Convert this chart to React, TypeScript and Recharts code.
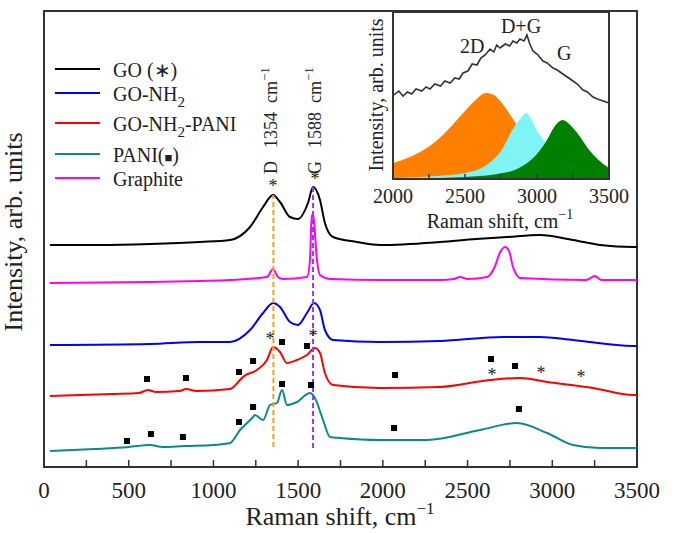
import React from "react";
import {
  ComposedChart,
  Line,
  Area,
  Scatter,
  XAxis,
  YAxis,
  ReferenceArea,
  ReferenceLine,
} from "recharts";

// Main spectra: [Raman shift cm-1, intensity (arb., offset stack)]
const goSpectrum: [number, number][] = [
  [35, 222], [330, 222], [626, 223], [921, 225], [1098, 227], [1216, 240],
  [1293, 260], [1352, 272], [1393, 265], [1452, 250], [1499, 248], [1558, 264],
  [1588, 280], [1629, 267], [1658, 244], [1706, 230], [1847, 225], [1983, 222],
  [2337, 225], [2550, 228], [2733, 230], [2927, 232], [3122, 227], [3281, 222],
  [3476, 220], [3500, 220],
];
const graphiteSpectrum: [number, number][] = [
  [35, 184], [626, 185], [921, 186], [1098, 187], [1316, 190], [1352, 198],
  [1381, 190], [1411, 188], [1552, 190], [1570, 207], [1580, 252], [1590, 250],
  [1611, 207], [1629, 192], [1688, 188], [1983, 187], [2337, 187], [2420, 188],
  [2455, 190], [2500, 188], [2615, 190], [2660, 200], [2690, 214], [2721, 220],
  [2745, 216], [2768, 200], [2790, 192], [2809, 189], [3200, 187], [3252, 191],
  [3290, 187], [3500, 187],
];
const goNh2Spectrum: [number, number][] = [
  [35, 122], [626, 123], [921, 125], [1098, 125], [1216, 137], [1293, 154],
  [1352, 164], [1393, 160], [1452, 145], [1499, 142], [1552, 154], [1594, 164],
  [1629, 157], [1658, 137], [1706, 127], [1983, 125], [2337, 126], [2709, 130],
  [2927, 130], [3122, 127], [3476, 121], [3500, 121],
];
const goNh2PaniSpectrum: [number, number][] = [
  [35, 71], [400, 73], [560, 74], [614, 77], [660, 75], [800, 76], [840, 78],
  [900, 76], [1098, 78], [1157, 87], [1174, 90], [1257, 97], [1316, 107],
  [1352, 120], [1393, 115], [1434, 104], [1493, 107], [1552, 112], [1599, 119],
  [1629, 114], [1658, 94], [1706, 82], [1983, 79], [2337, 80], [2632, 87],
  [2809, 89], [2969, 85], [3240, 79], [3476, 72], [3500, 72],
];
const paniSpectrum: [number, number][] = [
  [35, 16], [300, 18], [500, 20], [626, 22], [700, 20], [830, 21], [1000, 22],
  [1098, 24], [1157, 37], [1174, 40], [1234, 50], [1245, 52], [1293, 47],
  [1334, 62], [1375, 64], [1405, 77], [1434, 62], [1493, 65], [1570, 74],
  [1599, 69], [1647, 47], [1688, 30], [1747, 29], [1983, 27], [2260, 27],
  [2573, 37], [2792, 44], [2969, 34], [3122, 22], [3281, 19], [3476, 19],
  [3500, 19],
];

// Peak markers
const paniSquares: [number, number][] = [
  [608, 88], [838, 89], [1151, 95], [1234, 106], [1405, 125], [1552, 121],
  [2072, 92], [2638, 108], [2780, 101],
  [490, 26], [631, 33], [820, 30], [1151, 45], [1234, 60], [1405, 83],
  [1576, 82], [2066, 39], [2803, 58],
];
const goStars: [number, number][] = [
  [1334, 130], [1588, 133], [2644, 94], [2933, 96], [3169, 92],
  [1352, 283], [1599, 290],
];

// Inset: measured spectrum and fitted bands
const insetMeasured: [number, number][] = [
  [2007, 84], [2040, 88], [2070, 83], [2100, 87], [2130, 85], [2160, 90],
  [2200, 88], [2230, 92], [2257, 90], [2290, 95], [2330, 93], [2360, 98],
  [2396, 96], [2430, 101], [2460, 100], [2486, 106], [2520, 108], [2550, 115],
  [2583, 114], [2610, 121], [2640, 124], [2674, 130], [2700, 127], [2720, 134],
  [2743, 131], [2780, 135], [2810, 133], [2833, 138], [2860, 136], [2882, 140],
  [2910, 138], [2930, 144], [2950, 135], [2972, 128], [3000, 125], [3042, 118],
  [3070, 116], [3111, 111], [3140, 109], [3180, 105], [3210, 102], [3250, 98],
  [3280, 95], [3319, 89], [3350, 87], [3389, 82], [3420, 80], [3460, 78],
  [3500, 76],
];
const band2D: [number, number][] = [
  [2000, 16], [2100, 21], [2200, 28], [2300, 38], [2400, 52], [2500, 68],
  [2580, 80], [2644, 86], [2700, 84], [2750, 77], [2800, 67], [2850, 56],
  [2900, 42], [3000, 22], [3100, 12], [3250, 5], [3500, 2],
];
const bandDG: [number, number][] = [
  [2000, 1], [2300, 3], [2500, 6], [2650, 14], [2750, 28], [2833, 50],
  [2900, 63], [2924, 66], [2960, 60], [3000, 48], [3042, 40], [3100, 28],
  [3200, 14], [3300, 7], [3500, 3],
];
const bandG: [number, number][] = [
  [2000, 0], [2500, 2], [2800, 7], [2900, 13], [3000, 25], [3069, 39],
  [3120, 52], [3180, 59], [3230, 54], [3300, 42], [3347, 32], [3420, 20],
  [3500, 11],
];

const mainTicks = [0, 250, 500, 750, 1000, 1250, 1500, 1750, 2000, 2250, 2500, 2750, 3000, 3250, 3500];
const insetTicks = [2000, 2250, 2500, 2750, 3000, 3250, 3500];

const series = [
  { name: "GO (∗)", color: "#000000", data: goSpectrum },
  { name: "GO-NH2", color: "#0000ff", data: goNh2Spectrum },
  { name: "GO-NH2-PANI", color: "#ff0000", data: goNh2PaniSpectrum },
  { name: "PANI(■)", color: "#0a8a8a", data: paniSpectrum },
  { name: "Graphite", color: "#ff00ff", data: graphiteSpectrum },
];

const toPoints = (arr: [number, number][]) => arr.map(([x, y]) => ({ x, y }));

const FONT = "Liberation Serif";
const AXIS = "#333333";

const MainTick = (props: any) => {
  const { x, y, payload } = props;
  const major = payload.value % 500 === 0;
  return (
    <g>
      <line x1={x} x2={x} y1={y} y2={y - 7} stroke={AXIS} strokeWidth={1.5} />
      {major && (
        <text x={x} y={y + 31} textAnchor="middle" fontFamily={FONT} fontSize={23} fill="#222">
          {payload.value}
        </text>
      )}
    </g>
  );
};

const InsetTick = (props: any) => {
  const { x, y, payload } = props;
  const major = payload.value % 500 === 0;
  return (
    <g>
      <line x1={x} x2={x} y1={y} y2={y - 5} stroke={AXIS} strokeWidth={1.5} />
      {major && (
        <text x={x} y={y + 24} textAnchor="middle" fontFamily={FONT} fontSize={20} fill="#222">
          {payload.value}
        </text>
      )}
    </g>
  );
};

const Square = (props: any) => (
  <rect x={props.cx - 3} y={props.cy - 3} width={6} height={6} fill="#000" />
);
const Star = (props: any) => (
  <text x={props.cx} y={props.cy + 8} textAnchor="middle" fontFamily={FONT} fontSize={18} fill="#222">
    *
  </text>
);

function LegendRow({ y, color, children }: { y: number; color: string; children: React.ReactNode }) {
  return (
    <g>
      <line x1={55} x2={100} y1={y} y2={y} stroke={color} strokeWidth={2} />
      <text x={113} y={y + 7.5} fontFamily={FONT} fontSize={20} fill="#222">
        {children}
      </text>
    </g>
  );
}

function PeakLabel({ x, letter, shift }: { x: number; letter: string; shift: string }) {
  return (
    <text transform={`translate(${x},174) rotate(-90)`} fontFamily={FONT} fontSize={18} fill="#222">
      {letter}
      <tspan dx={13}>{shift}</tspan>
      <tspan dx={9}>cm</tspan>
      <tspan fontSize={13} dy={-8}>−1</tspan>
    </text>
  );
}

export default function App() {
  return (
    <div style={{ position: "absolute", left: 0, top: 0, width: 677, height: 533, background: "#fff" }}>
      <div style={{ position: "absolute", left: 0, top: 0 }}>
        <ComposedChart width={677} height={533} margin={{ top: 11, right: 40, bottom: 36, left: 44 }}>
          <XAxis
            type="number"
            dataKey="x"
            domain={[0, 3500]}
            ticks={mainTicks}
            interval={0}
            height={30}
            axisLine={false}
            tickLine={false}
            tickSize={0}
            tickMargin={0}
            tick={<MainTick />}
            allowDataOverflow
          />
          <YAxis type="number" domain={[0, 456]} hide width={0} allowDataOverflow />
          {series.map((s) => (
            <Line
              key={s.name}
              data={toPoints(s.data)}
              dataKey="y"
              type="monotone"
              stroke={s.color}
              strokeWidth={2}
              dot={false}
              isAnimationActive={false}
            />
          ))}
          <ReferenceLine
            segment={[{ x: 1354, y: 20 }, { x: 1354, y: 272 }]}
            stroke="#ff9a1a"
            strokeWidth={2}
            strokeDasharray="5 3"
          />
          <ReferenceLine
            segment={[{ x: 1588, y: 19 }, { x: 1588, y: 280 }]}
            stroke="#9a33ff"
            strokeWidth={2}
            strokeDasharray="5 3"
          />
          <Scatter data={toPoints(paniSquares)} dataKey="y" shape={<Square />} isAnimationActive={false} />
          <Scatter data={toPoints(goStars)} dataKey="y" shape={<Star />} isAnimationActive={false} />
          <ReferenceArea x1={0} x2={3500} y1={0} y2={456} fill="none" stroke={AXIS} strokeWidth={2} />
        </ComposedChart>
      </div>

      <div style={{ position: "absolute", left: 0, top: 0 }}>
        <ComposedChart width={677} height={533} margin={{ top: 12, right: 68, bottom: 324, left: 393 }}>
          <XAxis
            type="number"
            dataKey="x"
            domain={[2000, 3500]}
            ticks={insetTicks}
            interval={0}
            height={30}
            axisLine={false}
            tickLine={false}
            tickSize={0}
            tickMargin={0}
            tick={<InsetTick />}
            allowDataOverflow
          />
          <YAxis type="number" domain={[0, 167]} hide width={0} allowDataOverflow />
          <ReferenceArea x1={2000} x2={3500} y1={0} y2={167} fill="#fff" fillOpacity={1} stroke="none" />
          <Area data={toPoints(band2D)} dataKey="y" type="monotone" stroke="none" fill="#ff8000" fillOpacity={1} isAnimationActive={false} />
          <Area data={toPoints(bandDG)} dataKey="y" type="monotone" stroke="none" fill="#80f4f4" fillOpacity={1} isAnimationActive={false} />
          <Area data={toPoints(bandG)} dataKey="y" type="monotone" stroke="none" fill="#008000" fillOpacity={1} isAnimationActive={false} />
          <Line data={toPoints(insetMeasured)} dataKey="y" type="linear" stroke="#333" strokeWidth={1.6} dot={false} isAnimationActive={false} />
          <ReferenceArea x1={2000} x2={3500} y1={0} y2={167} fill="none" stroke={AXIS} strokeWidth={2} />
        </ComposedChart>
      </div>

      <svg width={677} height={533} style={{ position: "absolute", left: 0, top: 0, pointerEvents: "none" }}>
        <text x={340} y={525} textAnchor="middle" fontFamily={FONT} fontSize={26} fill="#222">
          Raman shift, cm<tspan fontSize={17} dy={-11}>−1</tspan>
        </text>
        <text transform="translate(22,232) rotate(-90)" textAnchor="middle" fontFamily={FONT} fontSize={26} fill="#222">
          Intensity, arb. units
        </text>

        <text x={500} y={228} textAnchor="middle" fontFamily={FONT} fontSize={20} fill="#222">
          Raman shift, cm<tspan fontSize={14} dy={-9}>−1</tspan>
        </text>
        <text transform="translate(383,95) rotate(-90)" textAnchor="middle" fontFamily={FONT} fontSize={20} fill="#222">
          Intensity, arb. units
        </text>
        <text x={460} y={53} fontFamily={FONT} fontSize={20} fill="#222">2D</text>
        <text x={521} y={33} textAnchor="middle" fontFamily={FONT} fontSize={20} fill="#222">D+G</text>
        <text x={557} y={60} fontFamily={FONT} fontSize={20} fill="#222">G</text>

        <PeakLabel x={277} letter="D" shift="1354" />
        <PeakLabel x={321} letter="G" shift="1588" />

        <LegendRow y={69} color={series[0].color}>GO (∗)</LegendRow>
        <LegendRow y={93} color={series[1].color}>
          GO-NH<tspan fontSize={15} dy={6}>2</tspan>
        </LegendRow>
        <LegendRow y={123} color={series[2].color}>
          GO-NH<tspan fontSize={15} dy={6}>2</tspan><tspan dy={-6}>-PANI</tspan>
        </LegendRow>
        <LegendRow y={154} color={series[3].color}>
          PANI(<tspan fontSize={13}>■</tspan>)
        </LegendRow>
        <LegendRow y={178} color={series[4].color}>Graphite</LegendRow>
      </svg>
    </div>
  );
}
